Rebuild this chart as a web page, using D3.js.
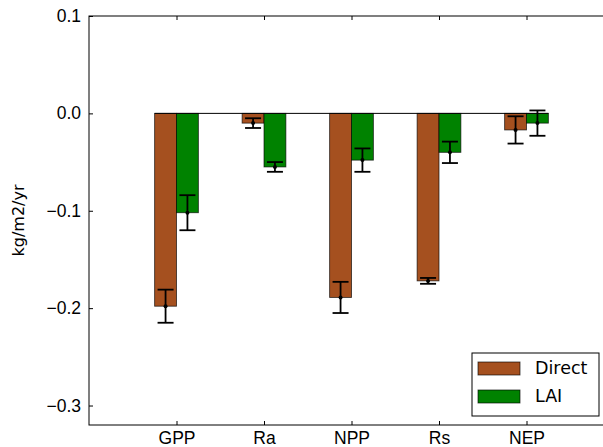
<!DOCTYPE html>
<html>
<head>
<meta charset="utf-8">
<script src="https://cdn.jsdelivr.net/npm/d3@7"></script>
<style>
  body { margin: 0; background: #fff; }
  svg { display: block; font-family: "DejaVu Sans", sans-serif; }
</style>
</head>
<body>
<svg id="chart" width="603" height="447"></svg>
<script>
// data
var categories = ["GPP", "Ra", "NPP", "Rs", "NEP"];
var series = ["Direct", "LAI"];
var directValues = [-0.198, -0.010, -0.189, -0.172, -0.017];
var directErrors = [0.017, 0.005, 0.016, 0.003, 0.014];
var laiValues = [-0.102, -0.055, -0.048, -0.040, -0.010];
var laiErrors = [0.018, 0.005, 0.012, 0.011, 0.013];
var yTicks = [0.1, 0.0, -0.1, -0.2, -0.3];

var colors = { Direct: "#a5501f", LAI: "#008200" };

var svg = d3.select("#chart");
// plot box (window.top is reserved, so use other names)
var pl = 89, pt = 16, pr = 614, pb = 425;

var x = d3.scalePoint().domain(categories).range([pl, pr]).padding(1);
var step = x.step();
var barW = step * 0.25;
var y = d3.scaleLinear().domain([-0.32, 0.1]).range([pb, pt]);

// build rows for the bars
var rows = [];
categories.forEach(function(c, i) {
  rows.push({ cat: c, s: "Direct", v: directValues[i], e: directErrors[i], off: -1 });
  rows.push({ cat: c, s: "LAI", v: laiValues[i], e: laiErrors[i], off: 0 });
});

// bars
svg.append("g").selectAll("rect")
  .data(rows)
  .enter().append("rect")
  .attr("x", function(d) { return x(d.cat) + d.off * barW; })
  .attr("y", function(d) { return y(Math.max(0, d.v)); })
  .attr("width", barW)
  .attr("height", function(d) { return Math.abs(y(d.v) - y(0)); })
  .attr("fill", function(d) { return colors[d.s]; })
  .attr("stroke", "#000")
  .attr("stroke-opacity", 0.7)
  .attr("stroke-width", 0.9);

// zero line across the bars
svg.append("line")
  .attr("x1", x(categories[0]) - barW).attr("x2", x(categories[categories.length - 1]) + barW)
  .attr("y1", y(0)).attr("y2", y(0))
  .attr("stroke", "#000").attr("stroke-width", 1);

// error bars
var err = svg.append("g").selectAll("g")
  .data(rows)
  .enter().append("g")
  .attr("stroke", "#000")
  .attr("stroke-width", 1.8);
function cx(d) { return x(d.cat) + d.off * barW + barW / 2; }
err.append("line")
  .attr("x1", cx).attr("x2", cx)
  .attr("y1", function(d) { return y(d.v + d.e); })
  .attr("y2", function(d) { return y(d.v - d.e); });
err.append("line")
  .attr("x1", function(d) { return cx(d) - 8; }).attr("x2", function(d) { return cx(d) + 8; })
  .attr("y1", function(d) { return y(d.v + d.e); }).attr("y2", function(d) { return y(d.v + d.e); });
err.append("line")
  .attr("x1", function(d) { return cx(d) - 8; }).attr("x2", function(d) { return cx(d) + 8; })
  .attr("y1", function(d) { return y(d.v - d.e); }).attr("y2", function(d) { return y(d.v - d.e); });
err.append("circle")
  .attr("cx", cx).attr("cy", function(d) { return y(d.v); })
  .attr("r", 2).attr("fill", "#000").attr("stroke", "none");

// axes, ticks pointing inward (matplotlib classic look)
var fontSize = "17.5px";
svg.append("g").attr("transform", "translate(" + pl + ",0)")
  .call(d3.axisLeft(y).tickValues(yTicks).tickSize(-4).tickPadding(8)
    .tickFormat(function(d) { return d3.format(".1f")(d).replace("-", "\u2212"); }));
svg.append("g").attr("transform", "translate(0," + pb + ")")
  .call(d3.axisBottom(x).tickSize(-4).tickPadding(7));
svg.append("g").attr("transform", "translate(0," + pt + ")")
  .call(d3.axisTop(x).tickSize(-4).tickFormat(""));
svg.append("g").attr("transform", "translate(" + pr + ",0)")
  .call(d3.axisRight(y).tickValues(yTicks).tickSize(-4).tickFormat(""));
svg.selectAll(".domain").remove();
svg.selectAll(".tick text").attr("fill", "#000").style("font-size", fontSize);
svg.selectAll(".tick line").attr("stroke", "#000");

// frame
svg.append("rect")
  .attr("x", pl).attr("y", pt)
  .attr("width", pr - pl).attr("height", pb - pt)
  .attr("fill", "none").attr("stroke", "#000").attr("stroke-width", 1);

// y label
svg.append("text")
  .attr("transform", "translate(24," + ((pt + pb) / 2) + ") rotate(-90)")
  .attr("text-anchor", "middle")
  .style("font-size", "16px")
  .text("kg/m2/yr");

// legend
var lg = svg.append("g");
lg.append("rect")
  .attr("x", 472).attr("y", 353).attr("width", 127).attr("height", 63)
  .attr("fill", "#fff").attr("stroke", "#000").attr("stroke-width", 1);
series.forEach(function(s, i) {
  lg.append("rect")
    .attr("x", 478).attr("y", 362 + i * 28).attr("width", 42).attr("height", 13)
    .attr("fill", colors[s]).attr("stroke", "#000").attr("stroke-opacity", 0.7).attr("stroke-width", 0.9);
  lg.append("text")
    .attr("x", 535).attr("y", 374 + i * 28)
    .style("font-size", fontSize)
    .text(s);
});
</script>
</body>
</html>
